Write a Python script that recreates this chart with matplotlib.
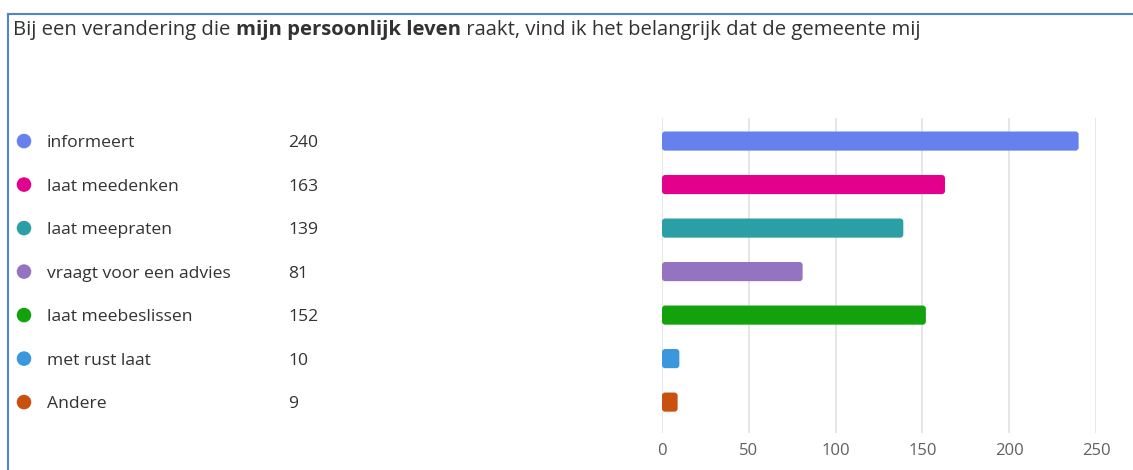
import matplotlib
matplotlib.use("Agg")
import matplotlib.pyplot as plt
from matplotlib.patches import FancyBboxPatch
from matplotlib.lines import Line2D
import matplotlib.transforms as mtransforms

categories = ["informeert", "laat meedenken", "laat meepraten", "vraagt voor een advies",
              "laat meebeslissen", "met rust laat", "Andere"]
values = [240, 163, 139, 81, 152, 10, 9]
colors = ["#6680ee", "#e3008c", "#2c9fa6", "#9473c0", "#13a10e", "#3a96dd", "#ca5010"]
ticks = [0, 50, 100, 150, 200, 250]
title_parts = [("Bij een verandering die ", "normal"), ("mijn persoonlijk leven", "bold"),
               (" raakt, vind ik het belangrijk dat de gemeente mij", "normal")]

W, H = 1133, 470
plt.rcParams['font.family'] = ['Open Sans', 'DejaVu Sans']
fig = plt.figure(figsize=(W / 100, H / 100), dpi=100)
fig.patch.set_facecolor("white")

ax = fig.add_axes([662 / W, 1 - 433 / H, (1096 - 662) / W, (433 - 118) / H])
ax.set_xlim(0, 250)
ax.set_ylim(len(categories) - 1 + 0.71, -0.53)
for s in ax.spines.values():
    s.set_visible(False)
ax.set_xticks(ticks)
ax.set_xticklabels([str(t) for t in ticks])
ax.set_yticks([])
ax.tick_params(axis='x', length=0, pad=7, labelsize=12, labelcolor="#606060")
ax.grid(axis='x', color="#e1e1e1", linewidth=1.2)
ax.set_axisbelow(True)

bar_h = 0.44
for i, (v, c) in enumerate(zip(values, colors)):
    p = FancyBboxPatch((0, i - bar_h / 2), v, bar_h,
                       boxstyle="round,pad=0,rounding_size=1.8",
                       mutation_aspect=0.04, facecolor=c, edgecolor="none", zorder=3)
    ax.add_patch(p)

trans = mtransforms.blended_transform_factory(fig.transFigure, ax.transData)
for i, (cat, v, c) in enumerate(zip(categories, values, colors)):
    ax.scatter([24 / W], [i], s=110, color=c, transform=trans, clip_on=False, zorder=4,
               edgecolors="none")
    ax.text(47 / W, i, cat, transform=trans, va="center_baseline", ha="left", fontsize=12.6,
            color="#323232")
    ax.text(288 / W, i, str(v), transform=trans, va="center_baseline", ha="left", fontsize=12.6,
            color="#323232")

# title with bold part
fig.canvas.draw()
renderer = fig.canvas.get_renderer()
x = 13
for txt, wgt in title_parts:
    t = fig.text(x / W, 1 - 30 / H, txt, fontsize=14.6, fontweight=wgt, color="#323232",
                 va="center", ha="left")
    bb = t.get_window_extent(renderer=renderer)
    x = bb.x1

# border lines
fig.add_artist(Line2D([8 / W, 1], [1 - 14 / H, 1 - 14 / H], color="#4f86c6", linewidth=1.5,
                      transform=fig.transFigure))
fig.add_artist(Line2D([8 / W, 8 / W], [0, 1 - 14 / H], color="#4f86c6", linewidth=1.5,
                      transform=fig.transFigure))

fig.savefig("out.png", dpi=100, facecolor="white")
